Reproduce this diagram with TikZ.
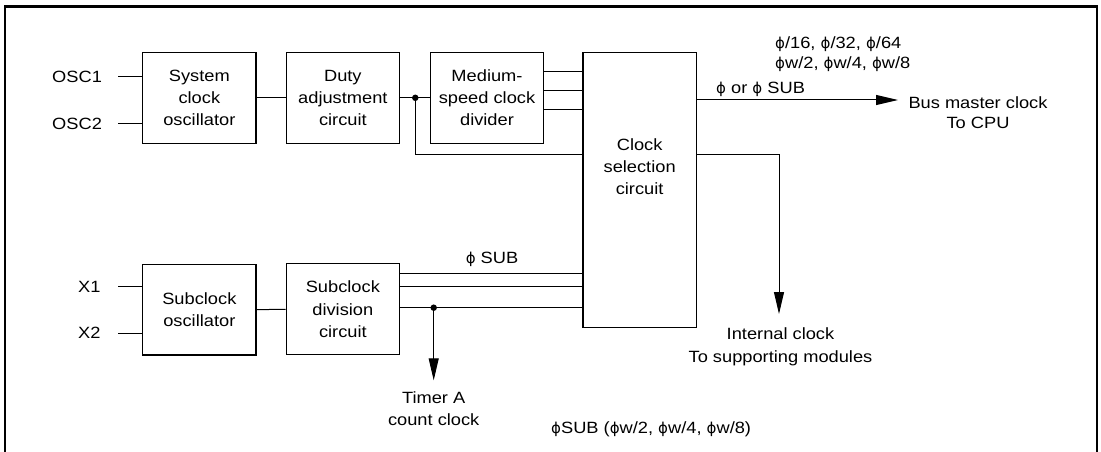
\documentclass[tikz,border=0pt]{standalone}
\usepackage{fontspec}
\setmainfont[FakeStretch=1.12]{Liberation Sans}
\newfontfamily\phfont[Scale=0.92]{DejaVu Sans}
\newcommand\ph{{\phfont ϕ}}
\usetikzlibrary{arrows.meta,calc}
\begin{document}
\begin{tikzpicture}[x=1pt,y=-1pt,
  txt/.style={font=\fontsize{16.3}{22}\selectfont, inner sep=0pt, align=center},
  blk/.style={draw, line width=1.1pt, minimum width=113.3pt, minimum height=91pt, inner sep=0pt, align=center, font=\fontsize{16.3}{22.3}\selectfont},
  wire/.style={line width=1pt},
  arr/.style={wire, -{Triangle[length=22pt,width=10pt]}},
  dotc/.style={circle, fill, inner sep=0pt, minimum size=6.5pt}]
\useasboundingbox (0,0) rectangle (1101,452);
\draw[line width=2.2pt] (5,452) -- (5,6.5) -- (1097,6.5) -- (1097,452);

% blocks
\node[blk] (sys) at (199.35,97.8) {System\\clock\\oscillator};
\node[blk] (duty) at (342.85,97.8) {Duty\\adjustment\\circuit};
\node[blk] (med) at (487,97.8) {Medium-\\speed clock\\divider};
\node[blk, minimum height=275.4pt] (clk) at (639.65,190) {};
\node[txt, font=\fontsize{16.3}{22.3}\selectfont] (clkt) at (639.65,166.7) {Clock\\selection\\circuit};
\node[blk, minimum height=90.7pt] (subosc) at (199.35,309.65) {Subclock\\oscillator};
\node[blk] (subdiv) at (342.85,309.3) {Subclock\\division\\circuit};

% input labels
\node[txt, anchor=west] (osc1) at (52,77) {OSC1};
\node[txt, anchor=west] (osc2) at (52,123.5) {OSC2};
\node[txt, anchor=west] (x1) at (78,286.5) {X1};
\node[txt, anchor=west] (x2) at (78,333) {X2};

\draw[wire] (sys.west |- osc1.east) -- ++(-23.7,0);
\draw[wire] (sys.west |- osc2.east) -- ++(-23.7,0);
\draw[wire] (subosc.west |- x1.east) -- ++(-23.7,0);
\draw[wire] (subosc.west |- x2.east) -- ++(-23.7,0);

% top chain
\draw[wire] (sys.east) -- (duty.west);
\draw[wire] (duty.east) -- (med.west);
\coordinate (j1) at (415.3,97.8);
\coordinate (cin) at (583,154.3);
\draw[wire] (j1) |- (cin);
\node[dotc] (d1) at (j1) {};
\foreach \yy in {71.7,90.3,109}
  \draw[wire] (med.east |- 0,\yy) -- (clk.west |- 0,\yy);

% outputs of clock selection
\coordinate (busend) at (898,100);
\draw[arr] (clk.east |- busend) -- (busend);
\coordinate (intend) at (779,314);
\draw[arr] (clk.east |- 0,154.3) -| (intend);

% bottom chain
\draw[wire] (subosc.east) -- (subdiv.west);
\foreach \yy in {273.7,286.7,307.7}
  \draw[wire] (subdiv.east |- 0,\yy) -- (clk.west |- 0,\yy);
\coordinate (tend) at (433.7,380.3);
\node[dotc] (d2) at (433.7,307.7) {};
\draw[arr] (d2.center) -- (tend);

% texts
\node[txt] (phsub) at (492,259.3) {\ph\ SUB};
\node[txt, anchor=west] (phor) at (716,89) {\ph\ or \ph\ SUB};
\node[txt, anchor=west, align=left, font=\fontsize{16.3}{20}\selectfont] (rates) at (775,54) {\ph/16, \ph/32, \ph/64\\\ph w/2, \ph w/4, \ph w/8};
\node[txt, font=\fontsize{16.3}{19.5}\selectfont] (bus) at (978,112.5) {Bus master clock\\To CPU};
\node[txt, font=\fontsize{16.3}{21.6}\selectfont] (timer) at (433.7,408.5) {Timer A\\count clock};
\node[txt, font=\fontsize{16.3}{23}\selectfont] (intl) at (780.5,346.5) {Internal clock\\To supporting modules};
\node[txt, anchor=west] (subr) at (551,429) {\ph SUB (\ph w/2, \ph w/4, \ph w/8)};
\end{tikzpicture}
\end{document}
